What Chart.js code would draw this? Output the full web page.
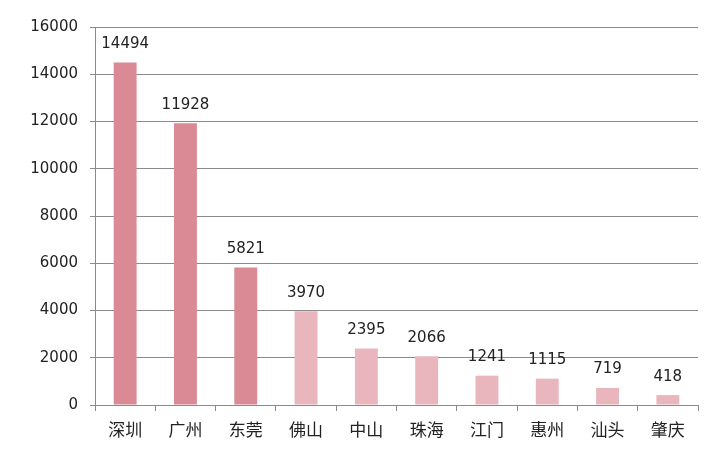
<!DOCTYPE html>
<html>
<head>
<meta charset="utf-8">
<script src="https://cdn.jsdelivr.net/npm/chart.js@4"></script>
<style>
  html, body { margin: 0; padding: 0; background: #fff; }
  #wrap { width: 725px; height: 459px; }
</style>
</head>
<body>
<div id="wrap"><canvas id="myChart" width="725" height="459"></canvas></div>
<script>
const cities = ['深圳', '广州', '东莞', '佛山', '中山', '珠海', '江门', '惠州', '汕头', '肇庆'];
const counts = [14494, 11928, 5821, 3970, 2395, 2066, 1241, 1115, 719, 418];
const yTicks = [0, 2000, 4000, 6000, 8000, 10000, 12000, 14000, 16000];

const DARK = '#da8a94';
const LIGHT = '#e9b6be';
const barColors = counts.map((v, i) => i < 3 ? DARK : LIGHT);

// 棒の上に数値を描く
const valueLabels = {
  id: 'valueLabels',
  afterDatasetsDraw(chart) {
    const ctx = chart.ctx;
    const meta = chart.getDatasetMeta(0);
    ctx.save();
    ctx.font = '15px "DejaVu Sans"';
    ctx.fillStyle = '#222';
    ctx.textAlign = 'center';
    ctx.textBaseline = 'bottom';
    meta.data.forEach((bar, i) => {
      ctx.fillText(String(counts[i]), bar.x, bar.y - 11);
    });
    ctx.restore();
  }
};

const ctx = document.getElementById('myChart');
new Chart(ctx, {
  type: 'bar',
  data: {
    labels: cities,
    datasets: [{
      data: counts,
      backgroundColor: barColors,
      borderWidth: 0,
      barPercentage: 0.4,
      categoryPercentage: 0.95,
    }]
  },
  options: {
    responsive: false,
    animation: false,
    layout: {
      padding: { left: 0, right: 27, top: 27, bottom: 0 }
    },
    scales: {
      x: {
        grid: {
          display: true,
          drawOnChartArea: false,
          offset: true,
          color: '#8a8a8a',
          tickLength: 6,
        },
        border: { color: '#8a8a8a', width: 1 },
        ticks: {
          color: '#222',
          font: { family: '"Noto Sans CJK SC"', size: 17 },
          padding: 8,
        },
        afterFit(scale) { scale.height = 54; }
      },
      y: {
        min: 0,
        max: 16000,
        afterBuildTicks(scale) { scale.ticks = yTicks.map(v => ({ value: v })); },
        grid: {
          color: '#8a8a8a',
          tickLength: 5,
        },
        border: { color: '#8a8a8a', width: 1 },
        ticks: {
          color: '#222',
          font: { family: '"DejaVu Sans"', size: 15 },
          padding: 12,
          callback: (value) => String(value),
        },
        afterFit(scale) { scale.width = 95; }
      }
    },
    plugins: {
      legend: { display: false },
      title: { display: false },
      tooltip: { enabled: false },
    }
  },
  plugins: [valueLabels]
});
</script>
</body>
</html>
